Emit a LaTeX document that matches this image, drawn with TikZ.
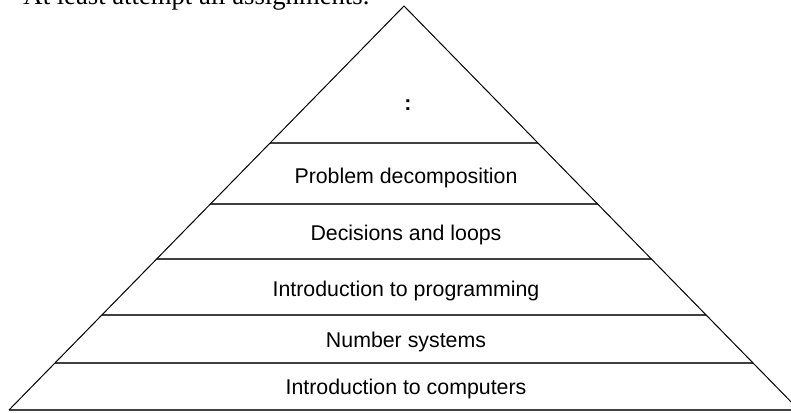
\documentclass[tikz,border=0pt]{standalone}
\usepackage{fontspec}
\setmainfont{Liberation Serif}
\newfontfamily\labelfont{Liberation Sans}

\tikzset{every picture/.style={line width=0.75pt}}
\tikzset{
  layer/.style={draw={rgb, 255:red, 64; green, 64; blue, 64 }, line width=1.5pt},
  layertext/.style={anchor=base, inner sep=0.75pt, font=\labelfont\fontsize{16}{19}\selectfont}
}

\begin{document}
\begin{tikzpicture}[x=0.75pt,y=0.75pt,yscale=-1,xscale=1]
\useasboundingbox (0,0) rectangle (791,412);
\clip (0,0) rectangle (791,412);

%Straight Lines [id:layers] 
\draw [layer]   (270.05,143) -- (537.95,143) ;
\draw [layer]   (210.4,204) -- (597.6,204) ;
\draw [layer]   (156.6,259) -- (651.4,259) ;
\draw [layer]   (101.9,315) -- (706.1,315) ;
\draw [layer]   (55,363) -- (753,363) ;
\draw [layer]   (9,410) -- (799,410) ;
%Shape: Triangle [id:pyramid] 
\draw    (9,410) -- (404,6) -- (799,410) ;

% Text Node
\draw (23,4.5) node [anchor=base west][inner sep=0pt, font=\fontsize{20}{24}\selectfont] (note) {At least attempt all assignments.};
% Text Node
\draw (408,105) node [inner sep=0.75pt, font=\labelfont\bfseries\fontsize{16}{19}\selectfont] (dots) {:};
% Text Node
\draw (406,183) node [layertext] (decomp) {Problem decomposition};
% Text Node
\draw (406,240.5) node [layertext] (loops) {Decisions and loops};
% Text Node
\draw (406,296) node [layertext] (prog) {Introduction to programming};
% Text Node
\draw (406,347) node [layertext] (numsys) {Number systems};
% Text Node
\draw (406,394) node [layertext] (comp) {Introduction to computers};

\end{tikzpicture}
\end{document}
